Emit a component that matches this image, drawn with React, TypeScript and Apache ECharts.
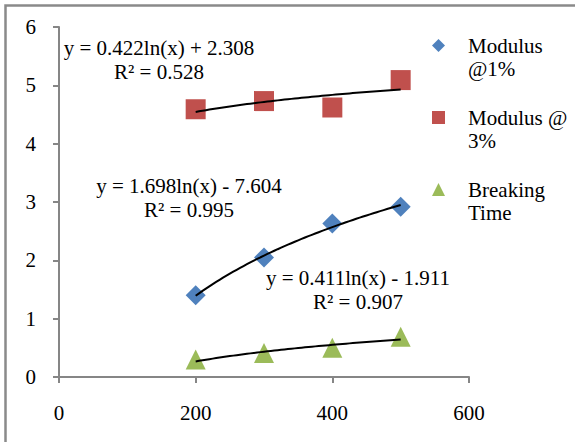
import React, { useEffect, useRef } from "react";
import * as echarts from "echarts";

// Strain-rate levels (x) and the three measured quantities
const xValues = [200, 300, 400, 500];
const modulus1 = [1.4, 2.05, 2.63, 2.92];
const modulus3 = [4.59, 4.73, 4.62, 5.09];
const breakingTime = [0.3, 0.41, 0.5, 0.69];

const seriesNames = ["Modulus @1%", "Modulus @ 3%", "Breaking Time"];
const legendLabels = ["Modulus\n@1%", "Modulus @\n3%", "Breaking\nTime"];
const seriesColors = ["#4F81BD", "#C0504D", "#9BBB59"];
const seriesSymbols = ["diamond", "rect", "triangle"];

// Logarithmic trendlines y = a*ln(x) + b with their R² values
const trendA = [1.698, 0.422, 0.411];
const trendB = [-7.604, 2.308, -1.911];
const trendR2 = [0.995, 0.528, 0.907];

const yTicks = [0, 6, 1];
const xTicks = [0, 600, 200];

const FONT = "Liberation Serif";

function trendPoints(a: number, b: number): number[][] {
  const pts: number[][] = [];
  for (let x = xValues[0]; x <= xValues[xValues.length - 1]; x += 5) {
    pts.push([x, a * Math.log(x) + b]);
  }
  return pts;
}

function eqText(i: number): string {
  const b = trendB[i];
  const sign = b < 0 ? "-" : "+";
  return `y = ${trendA[i].toFixed(3)}ln(x) ${sign} ${Math.abs(b).toFixed(3)}\nR² = ${trendR2[i].toFixed(3)}`;
}

export default function App() {
  const ref = useRef<HTMLDivElement>(null);

  useEffect(() => {
    document.body.style.margin = "0";
    if (!ref.current) return;
    const chart = echarts.init(ref.current, null, { renderer: "svg" });
    const dataSets = [modulus1, modulus3, breakingTime];

    const scatter = dataSets.map((vals, i) => ({
      name: seriesNames[i],
      type: "scatter",
      symbol: seriesSymbols[i],
      symbolSize: 20,
      itemStyle: { color: seriesColors[i], opacity: 1 },
      data: xValues.map((x, k) => [x, vals[k]]),
      z: 2,
    }));

    const trends = trendA.map((a, i) => ({
      name: "trend" + i,
      type: "line",
      showSymbol: false,
      symbol: "none",
      lineStyle: { color: "#000", width: 2 },
      data: trendPoints(a, trendB[i]),
      z: 3,
    }));

    const labelPos = [
      [189, 198],
      [159, 60],
      [358, 290],
    ];

    const labelText = {
      color: "#000",
      fontFamily: FONT,
      fontSize: 21,
    };

    chart.setOption({
      animation: false,
      textStyle: { fontFamily: FONT, fontSize: 21, color: "#000" },
      grid: { left: 59, right: 106, top: 27, bottom: 65 },
      xAxis: {
        type: "value",
        min: xTicks[0],
        max: xTicks[1],
        interval: xTicks[2],
        splitLine: { show: false },
        axisLine: { lineStyle: { color: "#868686", width: 2 } },
        axisTick: { length: 6, lineStyle: { color: "#868686", width: 2 } },
        axisLabel: { ...labelText, margin: 25 },
      },
      yAxis: {
        type: "value",
        min: yTicks[0],
        max: yTicks[1],
        interval: yTicks[2],
        splitLine: { show: false },
        axisLine: { show: true, lineStyle: { color: "#868686", width: 2 } },
        axisTick: { show: true, length: 6, lineStyle: { color: "#868686", width: 2 } },
        axisLabel: { ...labelText, margin: 23 },
      },
      legend: {
        orient: "vertical",
        left: 427,
        top: 6,
        itemWidth: 13,
        itemHeight: 13,
        itemGap: 3,
        data: seriesNames,
        // a leading empty line keeps the icon level with the first text line
        formatter: (name: string) => "\n" + legendLabels[seriesNames.indexOf(name)],
        textStyle: {
          ...labelText,
          lineHeight: 23,
          padding: [0, 0, 0, 18],
        },
      },
      graphic: [
        {
          type: "rect",
          shape: { x: 5.5, y: 5.5, width: 620, height: 500 },
          style: { fill: "none", stroke: "#8a8a8a", lineWidth: 2.5 },
          silent: true,
        },
        ...labelPos.map((p, i) => ({
          type: "text",
          x: p[0],
          y: p[1],
          z: 10,
          style: {
            text: eqText(i),
            fill: "#000",
            font: `21px ${FONT}`,
            lineHeight: 24,
            textAlign: "center",
            textVerticalAlign: "middle",
          },
        })),
      ],
      series: [...scatter, ...trends],
    });

    return () => chart.dispose();
  }, []);

  return <div ref={ref} style={{ width: 575, height: 442, background: "#fff" }} />;
}
